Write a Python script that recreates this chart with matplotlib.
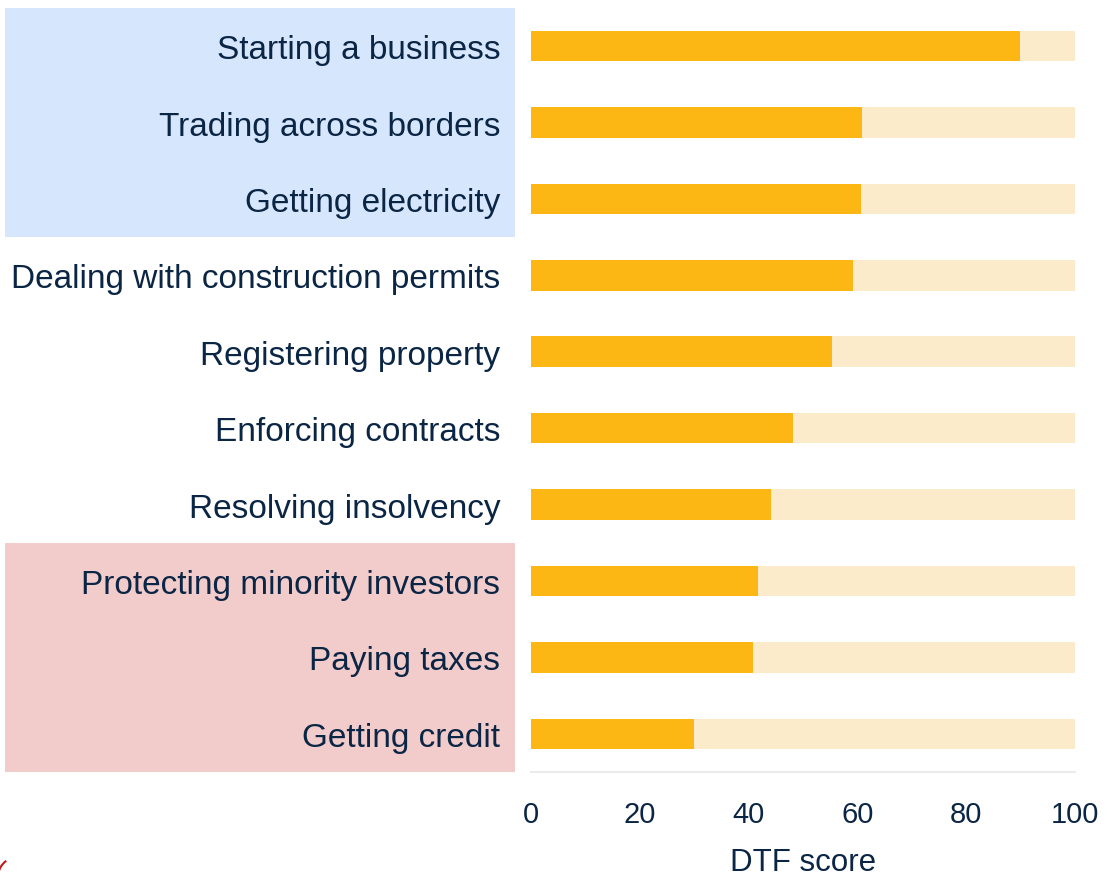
import matplotlib.pyplot as plt
from matplotlib.patches import Rectangle, Arc
from matplotlib.transforms import blended_transform_factory

plt.rcParams['font.family'] = ['Liberation Sans', 'DejaVu Sans']

# data
topics = ["Starting a business", "Trading across borders", "Getting electricity",
          "Dealing with construction permits", "Registering property",
          "Enforcing contracts", "Resolving insolvency",
          "Protecting minority investors", "Paying taxes", "Getting credit"]
scores = [89.9, 60.9, 60.7, 59.2, 55.4, 48.2, 44.1, 41.8, 40.8, 30.0]
max_score = 100
top_group = topics[:3]
bottom_group = topics[7:]

text_col = "#0b2545"
orange = "#fdb714"
light = "#fcebcb"

fig = plt.figure(figsize=(11.07, 8.78), dpi=100)
ax = fig.add_axes([0.4797, 0.1196, 0.4914, 0.8702])

ypos = list(range(len(topics)))
ax.barh(ypos, [max_score] * len(topics), height=0.4, color=light, zorder=1)
ax.barh(ypos, scores, height=0.4, color=orange, zorder=2)

ax.set_ylim(len(topics) - 0.5, -0.5)
ax.set_xlim(0, 100)
ax.set_yticks(ypos)
ax.set_yticklabels(topics, fontsize=24, color=text_col)
ax.set_xticks([0, 20, 40, 60, 80, 100])
ax.tick_params(axis='y', length=0, pad=22)
ax.tick_params(axis='x', length=0, pad=20, labelsize=21, labelcolor=text_col)
ax.set_xlabel("DTF score", fontsize=22.5, color=text_col, labelpad=14)

for s in ["top", "right", "left"]:
    ax.spines[s].set_visible(False)
ax.spines["bottom"].set_color("#ebebeb")
ax.spines["bottom"].set_linewidth(1.5)

# highlight boxes behind the labels
tr = blended_transform_factory(fig.transFigure, ax.transData)
x0 = 5 / 1107
w = (515 - 5) / 1107
i0 = topics.index(top_group[0])
ax.add_patch(Rectangle((x0, i0 - 0.5), w, len(top_group), transform=tr,
                       facecolor="#d6e6fd", edgecolor="none", clip_on=False, zorder=0))
i1 = topics.index(bottom_group[0])
ax.add_patch(Rectangle((x0, i1 - 0.5), w, len(bottom_group), transform=tr,
                       facecolor="#f2cbcb", edgecolor="none", clip_on=False, zorder=0))

# small red arc at the corner
fig.patches.append(Arc((18 / 1107, 0.0), 40 / 1107, 40 / 878, theta1=120, theta2=170,
                       transform=fig.transFigure, color="#c0181b", lw=1.5))

fig.savefig("out.png", dpi=100)
